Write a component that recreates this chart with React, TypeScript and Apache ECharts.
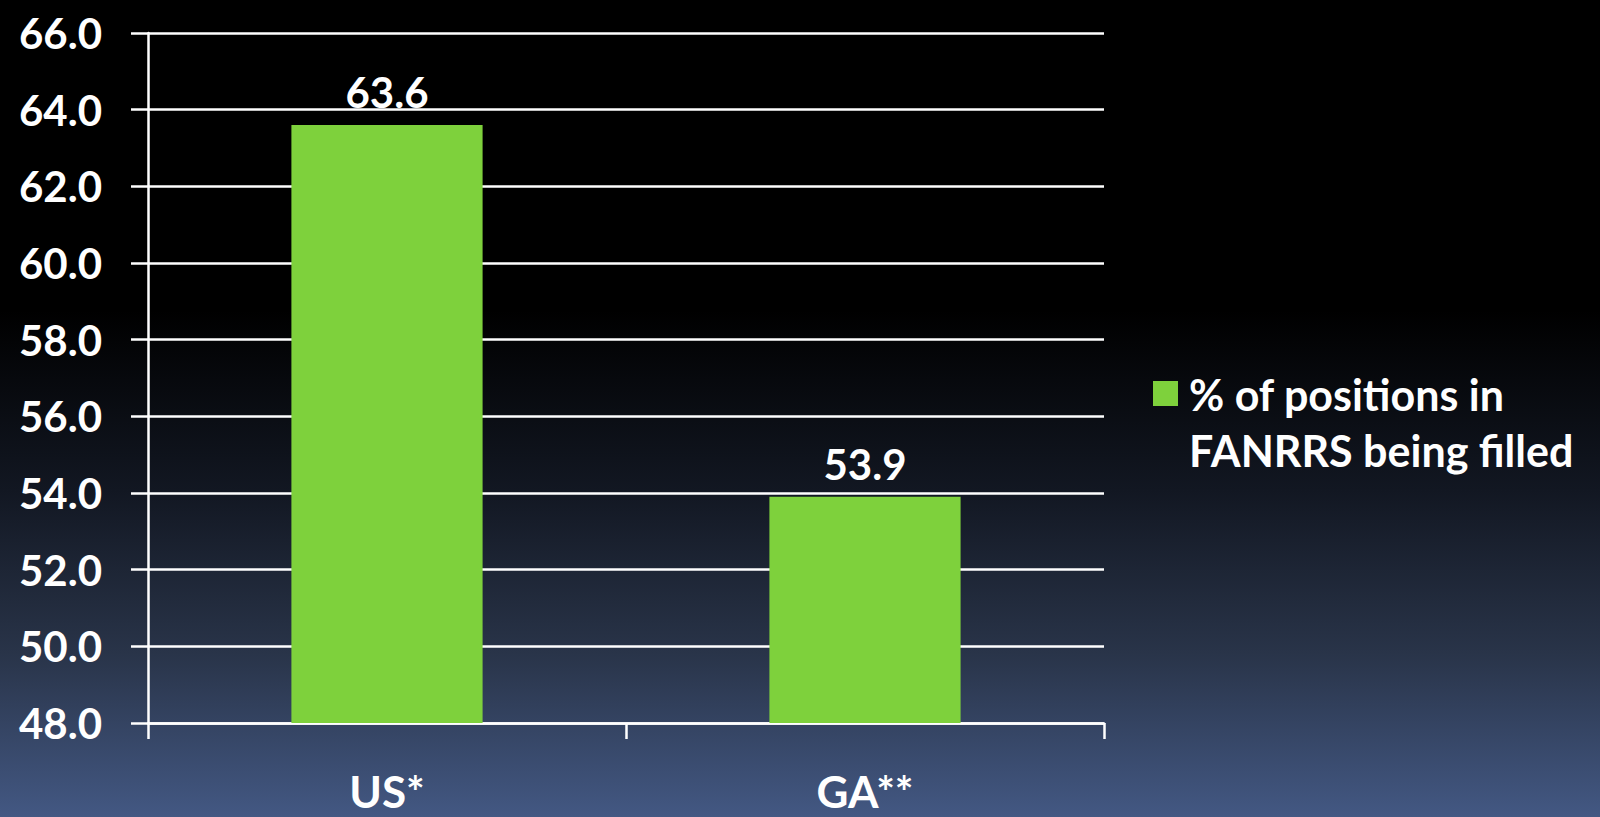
import React, { useEffect, useRef } from "react";
import * as echarts from "echarts";

const categories = ["US*", "GA**"];
const seriesName = "% of positions in FANRRS being filled";
const legendLines = ["% of positions in", "FANRRS being filled"];
const values = [63.6, 53.9];
const yMin = 48;
const yMax = 66;
const yStep = 2;

const FONT = "Lato, 'Open Sans', sans-serif";
const BAR = "#7ed13c";

export default function App() {
  const ref = useRef<HTMLDivElement>(null);
  useEffect(() => {
    if (!ref.current) return;
    const chart = echarts.init(ref.current, undefined, { renderer: "svg" });
    chart.setOption({
      animation: false,
      backgroundColor: {
        type: "linear",
        x: 0,
        y: 0,
        x2: 0,
        y2: 1,
        colorStops: [
          { offset: 0, color: "#000000" },
          { offset: 0.38, color: "#000000" },
          { offset: 0.6, color: "#121722" },
          { offset: 0.8, color: "#293449" },
          { offset: 1, color: "#435883" },
        ],
      },
      grid: { left: 148, right: 496, top: 33, bottom: 94, containLabel: false },
      xAxis: {
        type: "category",
        data: categories,
        axisLine: { show: true, lineStyle: { color: "#ffffff", width: 2.5 } },
        axisTick: { show: true, length: 16, lineStyle: { color: "#ffffff", width: 2.5 } },
        axisLabel: {
          color: "#ffffff",
          fontFamily: FONT,
          fontWeight: "bold",
          fontSize: 44,
          margin: 46,
        },
        splitLine: { show: false },
      },
      yAxis: {
        type: "value",
        min: yMin,
        max: yMax,
        interval: yStep,
        axisLine: { show: true, lineStyle: { color: "#ffffff", width: 2.5 } },
        axisTick: { show: true, length: 17, lineStyle: { color: "#ffffff", width: 2.5 } },
        axisLabel: {
          color: "#ffffff",
          fontFamily: FONT,
          fontWeight: "bold",
          fontSize: 42,
          margin: 46,
          formatter: (v: number) => v.toFixed(1),
        },
        splitLine: { show: true, lineStyle: { color: "#ffffff", width: 2.5 } },
      },
      series: [
        {
          name: seriesName,
          type: "bar",
          data: values,
          barWidth: "40%",
          itemStyle: { color: BAR },
          label: {
            show: true,
            position: "top",
            distance: 12,
            color: "#ffffff",
            fontFamily: FONT,
            fontWeight: "bold",
            fontSize: 42,
            formatter: (p: any) => Number(p.value).toFixed(1),
          },
        },
      ],
      graphic: [
        {
          type: "rect",
          shape: { x: 1153, y: 381, width: 25, height: 25 },
          style: { fill: BAR },
        },
        {
          type: "text",
          x: 1189,
          y: 366,
          style: {
            text: legendLines.join("\n"),
            fill: "#ffffff",
            font: `bold 43px ${FONT}`,
            lineHeight: 56,
            textVerticalAlign: "top",
          },
        },
      ],
    });
    return () => chart.dispose();
  }, []);
  return (
    <div
      ref={ref}
      style={{ position: "fixed", left: 0, top: 0, width: 1600, height: 817 }}
    />
  );
}
